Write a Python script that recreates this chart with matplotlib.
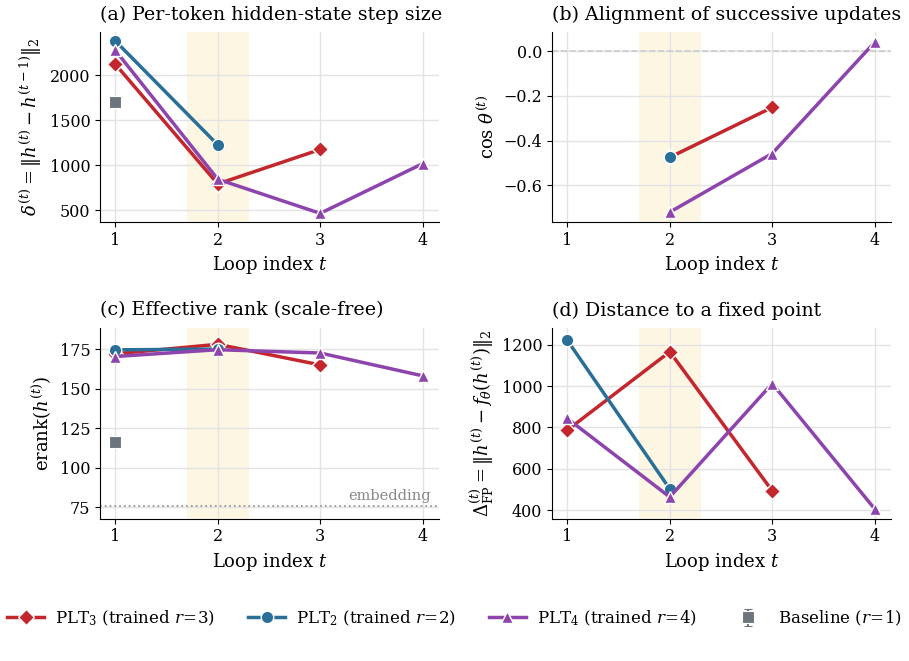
import matplotlib
matplotlib.use("Agg")
from matplotlib import pyplot as plt
import numpy as np

plt.rcParams["font.family"] = "DejaVu Serif"
plt.rcParams["mathtext.fontset"] = "dejavuserif"

# loop indices per model
t_plt3 = [1, 2, 3]
t_plt2 = [1, 2]
t_plt4 = [1, 2, 3, 4]

# (a) step size
step_plt3 = [2120, 790, 1173]
step_plt2 = [2378, 1224]
step_plt4 = [2274, 842, 463, 1015]
step_base = 1697

# (b) cosine of successive updates (defined from t=2)
cos_t_plt3 = [2, 3]
cos_plt3 = [-0.475, -0.252]
cos_t_plt2 = [2]
cos_plt2 = [-0.474]
cos_t_plt4 = [2, 3, 4]
cos_plt4 = [-0.72, -0.458, 0.039]

# (c) effective rank
erank_plt3 = [172, 178, 165]
erank_plt2 = [174.5, 175]
erank_plt4 = [170.3, 174.6, 172.5, 158.1]
erank_base = 116
erank_embedding = 76

# (d) fixed-point distance
fp_plt3 = [787, 1166, 493]
fp_plt2 = [1221, 502]
fp_plt4 = [843, 463, 1012, 406]

RED = "#c4262e"
BLUE = "#2a6f97"
PURPLE = "#8e44ad"
GRAY = "#6c757d"

fig = plt.figure(figsize=(9.09, 6.61), dpi=100)
W, H = 909, 661

def box(l, r, top, bot):
    return [l / W, 1 - bot / H, (r - l) / W, (bot - top) / H]

ax_a = fig.add_axes(box(100, 439, 32, 222))
ax_b = fig.add_axes(box(552, 891, 32, 222))
ax_c = fig.add_axes(box(100, 439, 328, 518.5))
ax_d = fig.add_axes(box(552, 891, 328, 518.5))

def style(ax):
    ax.axvspan(1.7, 2.3, color="#fcf6e3", zorder=0, lw=0)
    ax.grid(True, color="#e3e3e3", lw=1.0, zorder=0.5)
    ax.set_axisbelow(True)
    ax.spines["top"].set_visible(False)
    ax.spines["right"].set_visible(False)
    ax.set_xlim(0.85, 4.16)
    ax.set_xticks([1, 2, 3, 4])
    ax.tick_params(labelsize=11.5)
    ax.set_xlabel("Loop index $t$", fontsize=13)

def line(ax, x, y, color, marker, ms, label=None):
    ax.plot(x, y, color=color, marker=marker, ms=ms, lw=2.5,
            mec="white", mew=1.0, label=label, zorder=3)

# (a)
style(ax_a)
line(ax_a, t_plt3, step_plt3, RED, "D", 8, r"PLT$_3$ (trained $r\!=\!3$)")
line(ax_a, t_plt2, step_plt2, BLUE, "o", 9, r"PLT$_2$ (trained $r\!=\!2$)")
line(ax_a, t_plt4, step_plt4, PURPLE, "^", 9, r"PLT$_4$ (trained $r\!=\!4$)")
ax_a.errorbar([1], [step_base], yerr=[0], fmt="s", color=GRAY, ms=8,
              capsize=3, mec="white", mew=0.8, label=r"Baseline ($r\!=\!1$)", zorder=3)
ax_a.set_ylim(367, 2478)
ax_a.set_yticks([500, 1000, 1500, 2000])
ax_a.set_ylabel(r"$\delta^{(t)} = \|h^{(t)} - h^{(t-1)}\|_2$", fontsize=13)
ax_a.set_title("(a) Per-token hidden-state step size", fontsize=13.7, loc="left", pad=9)

# (b)
style(ax_b)
ax_b.axhline(0, color="#cccccc", lw=1.2, ls="--", zorder=1)
line(ax_b, cos_t_plt3, cos_plt3, RED, "D", 8)
line(ax_b, cos_t_plt2, cos_plt2, BLUE, "o", 9)
line(ax_b, cos_t_plt4, cos_plt4, PURPLE, "^", 9)
ax_b.set_ylim(-0.764, 0.085)
ax_b.set_yticks([-0.6, -0.4, -0.2, 0.0])
ax_b.set_ylabel(r"$\cos\,\theta^{(t)}$", fontsize=13)
ax_b.set_title("(b) Alignment of successive updates", fontsize=13.7, loc="left", pad=9)

# (c)
style(ax_c)
ax_c.axhline(erank_embedding, color="#999999", lw=1.3, ls=":", zorder=1)
ax_c.text(4.08, erank_embedding + 2, "embedding", color="#888888",
          fontsize=10.5, ha="right", va="bottom")
line(ax_c, t_plt3, erank_plt3, RED, "D", 8)
line(ax_c, t_plt2, erank_plt2, BLUE, "o", 9)
line(ax_c, t_plt4, erank_plt4, PURPLE, "^", 9)
ax_c.errorbar([1], [erank_base], yerr=[0], fmt="s", color=GRAY, ms=8,
              capsize=3, mec="white", mew=0.8, zorder=3)
ax_c.set_ylim(68, 188.3)
ax_c.set_yticks([75, 100, 125, 150, 175])
ax_c.set_ylabel(r"$\mathrm{erank}(h^{(t)})$", fontsize=13)
ax_c.set_title("(c) Effective rank (scale-free)", fontsize=13.7, loc="left", pad=9)

# (d)
style(ax_d)
line(ax_d, t_plt3, fp_plt3, RED, "D", 8)
line(ax_d, t_plt2, fp_plt2, BLUE, "o", 9)
line(ax_d, t_plt4, fp_plt4, PURPLE, "^", 9)
ax_d.set_ylim(359, 1281)
ax_d.set_yticks([400, 600, 800, 1000, 1200])
ax_d.set_ylabel(r"$\Delta_{\mathrm{FP}}^{(t)} = \|h^{(t)} - f_\theta(h^{(t)})\|_2$", fontsize=13)
ax_d.set_title("(d) Distance to a fixed point", fontsize=13.7, loc="left", pad=9)

handles, labels = ax_a.get_legend_handles_labels()
fig.legend(handles, labels, loc="center", bbox_to_anchor=(0.5, 1 - 618 / H),
           ncol=4, frameon=False, fontsize=12, columnspacing=2.0,
           handlelength=2.2, handletextpad=0.65, borderpad=0, borderaxespad=0)

fig.savefig("out.png", dpi=100)
